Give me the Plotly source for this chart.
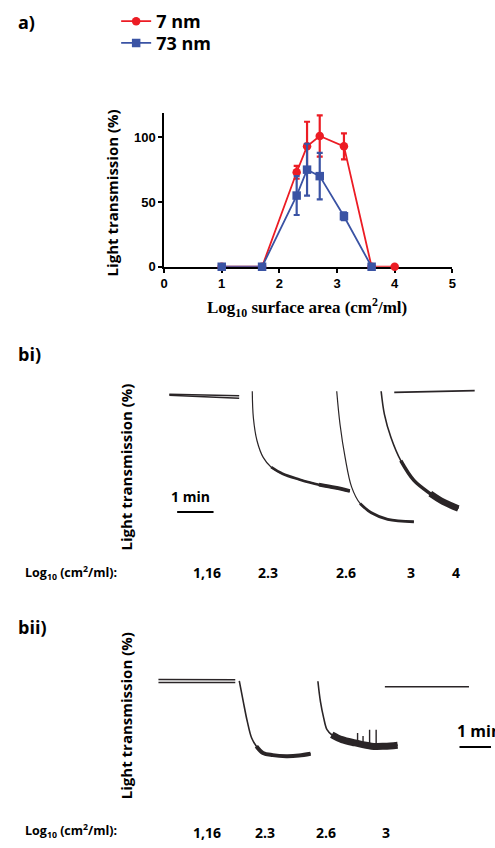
import plotly.graph_objects as go

W, H = 495, 848

# ---------------- Panel a data ----------------
log_sa_7 = [1, 1.7, 2.3, 2.48, 2.7, 3.12, 3.6, 4]
trans_7 = [0, 0, 73, 93, 101, 93, 0, 0]
err_7 = [0, 0, 5, 19, 16, 10, 0, 0]

log_sa_73 = [1, 1.7, 2.3, 2.48, 2.7, 3.12, 3.6]
trans_73 = [0, 0, 55, 75, 70, 39, 0]
err_73 = [0, 0, 15, 20, 18, 3, 0]

x_ticks_a = [0, 1, 2, 3, 4, 5]
y_ticks_a = [0, 50, 100]

# ---------------- Panel bi data (time in min, transmission in %) ----------------
bi_116_t = [0, 1.92]
bi_116_rep1 = [98, 97]
bi_116_rep2 = [97.3, 95.3]

bi_23_t = [2.28, 2.31, 2.41, 2.58, 2.80, 3.11, 3.57, 4.11, 4.56, 4.96]
bi_23_v = [100, 82.2, 66.7, 55.5, 48.9, 44.5, 40.7, 37.1, 35.1, 32.9]

bi_26_t = [4.60, 4.69, 4.83, 5.01, 5.24, 5.55, 6.00, 6.72]
bi_26_v = [100, 77.8, 55.5, 35.5, 24.5, 18.2, 13.8, 12.2]

bi_3_t = [5.82, 5.91, 6.09, 6.36, 6.72, 7.17, 7.53, 7.94]
bi_3_v = [100, 84.5, 68.9, 53.3, 40, 31.1, 25.5, 21.1]

bi_4_t = [6.18, 8.39]
bi_4_v = [99.3, 100.5]

bi_labels = ["1,16", "2.3", "2.6", "3", "4"]

# ---------------- Panel bii data ----------------
bii_116_t = [0, 2.11]
bii_116_rep1 = [100.7, 100.5]
bii_116_rep2 = [98.7, 98.7]

bii_23_t = [2.22, 2.33, 2.44, 2.56, 2.69, 2.87, 3.14, 3.51, 3.86, 4.18]
bii_23_v = [99.8, 85.8, 72.5, 61.3, 55.8, 51.3, 49.8, 49.1, 49.5, 50.7]

bii_26_t = [4.38, 4.45, 4.54, 4.63, 4.76, 5.04, 5.40, 5.85, 6.21, 6.57]
bii_26_v = [99.5, 85.8, 74.7, 66.9, 63.5, 60.2, 58.0, 55.8, 55.8, 56.5]
bii_26_spike_t = [5.47, 5.47, None, 5.62, 5.62, None, 5.80, 5.80, None, 5.98, 5.98]
bii_26_spike_v = [57, 64.7, None, 57, 62.7, None, 56, 66.9, None, 56, 66.9]

bii_3_t = [6.22, 8.53]
bii_3_v = [95.8, 95.8]

bii_labels = ["1,16", "2.3", "2.6", "3"]

scale_bar_min = 1.0

# ---------------- styles ----------------
RED = "#ec1c24"
BLUE = "#3a53a4"
INK = "#2a2527"
SANS = "Open Sans"


def px(x):
    return x / W


def py(y):
    return 1 - y / H


def x_axis_px(p_left, p_right, p_origin, ppu):
    return [p_left / W, p_right / W], [(p_left - p_origin) / ppu, (p_right - p_origin) / ppu]


def y_axis_px(p_top, p_bottom, p_origin, ppu):
    return [1 - p_bottom / H, 1 - p_top / H], [(p_origin - p_bottom) / ppu, (p_origin - p_top) / ppu]


fig = go.Figure()

# ---- panel a ----
fig.add_trace(go.Scatter(
    x=log_sa_7, y=trans_7, name="<b>7 nm</b>", mode="lines+markers", legend="legend",
    line=dict(color=RED, width=1.8), marker=dict(symbol="circle", size=8.5, color=RED),
    error_y=dict(type="data", array=err_7, color=RED, thickness=2.2, width=3),
    cliponaxis=False, xaxis="x", yaxis="y"))
fig.add_trace(go.Scatter(
    x=log_sa_73, y=trans_73, name="<b>73 nm</b>", mode="lines+markers", legend="legend2",
    line=dict(color=BLUE, width=1.8), marker=dict(symbol="square", size=8.5, color=BLUE),
    error_y=dict(type="data", array=err_73, color=BLUE, thickness=2.2, width=3),
    cliponaxis=False, xaxis="x", yaxis="y"))


def trace_line(t, v, xa, ya, width, shape="spline"):
    fig.add_trace(go.Scatter(x=t, y=v, mode="lines", showlegend=False, hoverinfo="skip",
                             line=dict(color=INK, width=width, shape=shape),
                             xaxis=xa, yaxis=ya))


# ---- panel bi ----
trace_line(bi_116_t, bi_116_rep1, "x2", "y2", 1.6, "linear")
trace_line(bi_116_t, bi_116_rep2, "x2", "y2", 1.6, "linear")
trace_line(bi_23_t, bi_23_v, "x2", "y2", 1.2)
trace_line(bi_23_t[4:], bi_23_v[4:], "x2", "y2", 2.6)
trace_line(bi_23_t[7:], bi_23_v[7:], "x2", "y2", 3.8)
trace_line(bi_26_t, bi_26_v, "x2", "y2", 1.2)
trace_line(bi_26_t[4:], bi_26_v[4:], "x2", "y2", 2.8)
trace_line(bi_3_t, bi_3_v, "x2", "y2", 1.6)
trace_line(bi_3_t[3:], bi_3_v[3:], "x2", "y2", 3.5)
trace_line(bi_3_t[5:], bi_3_v[5:], "x2", "y2", 6.5)
trace_line(bi_4_t, bi_4_v, "x2", "y2", 1.8, "linear")

# ---- panel bii ----
trace_line(bii_116_t, bii_116_rep1, "x3", "y3", 1.4, "linear")
trace_line(bii_116_t, bii_116_rep2, "x3", "y3", 1.4, "linear")
trace_line(bii_23_t, bii_23_v, "x3", "y3", 1.6)
trace_line(bii_23_t[4:], bii_23_v[4:], "x3", "y3", 4.0)
trace_line(bii_26_t, bii_26_v, "x3", "y3", 1.6)
trace_line(bii_26_t[4:], bii_26_v[4:], "x3", "y3", 7.0)
trace_line(bii_26_spike_t, bii_26_spike_v, "x3", "y3", 1.4, "linear")
trace_line(bii_3_t, bii_3_v, "x3", "y3", 1.6, "linear")

# ---------------- axes ----------------
ax_a_x_dom, ax_a_x_rng = x_axis_px(162.7, 455.7, 162.7, 58.6)
ax_a_y_dom, ax_a_y_rng = y_axis_px(113.8, 269.3, 269.3, 1.307)

tickfont_a = dict(family="Liberation Sans", size=13, color="black", weight="bold")
common_a = dict(showline=True, linecolor="black", linewidth=1.6, ticks="outside",
                ticklen=4, tickwidth=1.6, tickcolor="black", showgrid=False,
                zeroline=False, tickfont=tickfont_a, layer="below traces")

bi_x_dom, bi_x_rng = x_axis_px(0, W, 168, 37)
bi_y_dom, bi_y_rng = y_axis_px(380, 560, 545, 1.5)
bii_x_dom, bii_x_rng = x_axis_px(0, W, 157, 37)
bii_y_dom, bii_y_rng = y_axis_px(660, 800, 837, 1.5)

legend_font = dict(family=SANS, size=18, color="black")
legend_common = dict(xanchor="left", yanchor="top", font=legend_font,
                     bgcolor="rgba(0,0,0,0)", borderwidth=0)

fig.update_layout(
    width=W, height=H, margin=dict(l=0, r=0, t=0, b=0),
    paper_bgcolor="white", plot_bgcolor="rgba(0,0,0,0)",
    xaxis=dict(domain=ax_a_x_dom, range=ax_a_x_rng, tickvals=x_ticks_a, anchor="y", **common_a),
    yaxis=dict(domain=ax_a_y_dom, range=ax_a_y_rng, tickvals=y_ticks_a, anchor="x", **common_a),
    xaxis2=dict(domain=bi_x_dom, range=bi_x_rng, visible=False, anchor="y2"),
    yaxis2=dict(domain=bi_y_dom, range=bi_y_rng, visible=False, anchor="x2"),
    xaxis3=dict(domain=bii_x_dom, range=bii_x_rng, visible=False, anchor="y3"),
    yaxis3=dict(domain=bii_y_dom, range=bii_y_rng, visible=False, anchor="x3"),
    showlegend=True,
    legend=dict(x=px(114), y=py(3), **legend_common),
    legend2=dict(x=px(114), y=py(25), **legend_common),
)

# scale bars (1 min)
fig.add_shape(type="line", xref="x2", yref="y2", x0=0.216, x1=0.216 + scale_bar_min,
              y0=18.7, y1=18.7, line=dict(color="black", width=2))
fig.add_shape(type="line", xref="x3", yref="y3", x0=8.27, x1=8.27 + scale_bar_min,
              y0=55.3, y1=55.3, line=dict(color="black", width=2))

# ---------------- text ----------------
def txt(text, x, y, size, family=SANS, xanchor="left", angle=0, weight="bold"):
    fig.add_annotation(text=text, x=px(x), y=py(y), xref="paper", yref="paper",
                       xanchor=xanchor, yanchor="middle", showarrow=False, textangle=angle,
                       font=dict(family=family, size=size, color="black", weight=weight))


txt("a)", 12, 22, 18)
txt("bi)", 12, 357, 18)
txt("bii)", 12, 633, 18)

txt("Light transmission (%)", 110, 195, 15, xanchor="center", angle=-90)
txt("Log<sub>10</sub> surface area (cm<sup>2</sup>/ml)", 308, 310, 17,
    family="Liberation Serif", xanchor="center")

txt("Light transmission (%)", 124, 471, 15, xanchor="center", angle=-90)
txt("Light transmission (%)", 124, 722, 15, xanchor="center", angle=-90)

txt("1 min", 168, 501, 14)
txt("1 min", 458, 738, 16)

txt("Log<sub>10</sub> (cm<sup>2</sup>/ml):", 19, 578, 12.5)
for lab, xc in zip(bi_labels, [206, 268.5, 347.5, 414, 459]):
    txt(lab, xc, 578, 14, xanchor="center")

txt("Log<sub>10</sub> (cm<sup>2</sup>/ml):", 19, 839, 12.5)
for lab, xc in zip(bii_labels, [206, 265, 327, 388.5]):
    txt(lab, xc, 840, 14, xanchor="center")

fig.write_html("out.html", config={"displayModeBar": False},
               post_script="document.body.style.margin='0';document.body.style.overflow='hidden';")
